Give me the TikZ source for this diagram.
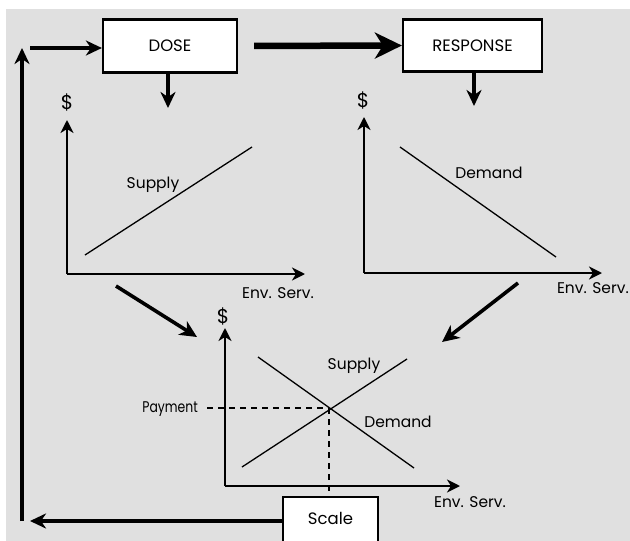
\documentclass[tikz,border=0pt]{standalone}
\usepackage{fontspec}
\setmainfont{Poppins}
\usetikzlibrary{arrows.meta}
\definecolor{bg}{HTML}{E0E0E0}
\begin{document}
\begin{tikzpicture}[x=1pt,y=-1pt,
  box/.style={draw,line width=2.2pt,fill=white,inner sep=0pt,font=\fontsize{16.5}{19}\selectfont},
  lbl/.style={inner sep=0pt,font=\fontsize{15.5}{18}\selectfont},
  dollar/.style={inner sep=0pt,font=\fontsize{20}{22}\selectfont},
  axis/.style={line width=2pt,-{Stealth[length=13pt,width=13pt,inset=4pt]}},
  curve/.style={line width=1.3pt},
  flow/.style={line width=3.2pt,-{Stealth[length=16pt,width=15pt,inset=5pt]}},
  diag/.style={line width=3.6pt,-{Stealth[length=17pt,width=16pt,inset=5pt]}},
  bigflow/.style={line width=6.5pt,-{Stealth[length=27pt,width=26pt,inset=8pt]}},
  dsh/.style={line width=1.3pt,dash pattern=on 6pt off 5pt}]
\useasboundingbox (0,0) rectangle (630,541);
\fill[bg] (6,9) rectangle (630,541);
% boxes
\node[box,minimum width=134pt,minimum height=53pt] (dose) at (170,46) {DOSE};
\node[box,minimum width=139pt,minimum height=52pt] (resp) at (472.5,45.5) {RESPONSE};
\node[box,minimum width=95pt,minimum height=48pt,text depth=6pt] (scale) at (330.5,521) {Scale};
% flow arrows
\draw[bigflow,shorten <=16pt] (dose.east) -- (resp.west);
\coordinate (tl) at (30,48);
\draw[flow] (tl) -- (tl -| dose.west);
\coordinate (vb) at (22,521);
\coordinate (vt) at (22,48);
\draw[flow] (vb) -- (vt);
\coordinate (bt) at (30,521);
\draw[flow] (scale.west) -- (bt);
\coordinate (d1) at (168,108);
\draw[flow] (dose.south -| d1) -- (d1);
\coordinate (r1) at (474,106);
\draw[flow] (resp.south -| r1) -- (r1);
% left graph
\coordinate (lo) at (67,274);
\coordinate (ly) at (67,120);
\coordinate (lx) at (305,274);
\draw[axis] (lo) -- (ly);
\draw[axis] (lo) -- (lx);
\coordinate (s1) at (85,255);
\coordinate (s2) at (252,147);
\draw[curve] (s1) -- (s2);
\node[dollar] (ld) at (67,102) {\$};
\node[lbl] (ls) at (153,185) {Supply};
\node[lbl] (le) at (278,293) {Env. Serv.};
% right graph
\coordinate (ro) at (364,273);
\coordinate (ry) at (364,117);
\coordinate (rx) at (602,273);
\draw[axis] (ro) -- (ry);
\draw[axis] (ro) -- (rx);
\coordinate (q1) at (400,147);
\coordinate (q2) at (556,257);
\draw[curve] (q1) -- (q2);
\node[dollar] (rd) at (363,100) {\$};
\node[lbl] (rdm) at (489,173) {Demand};
\node[lbl,anchor=east] (re) at (629,288) {Env. Serv.};
% diagonals
\coordinate (a1) at (116,286);
\coordinate (a2) at (197,337);
\draw[diag] (a1) -- (a2);
\coordinate (b1) at (518,283);
\coordinate (b2) at (442,342);
\draw[diag] (b1) -- (b2);
% bottom graph
\coordinate (bo) at (225,486);
\coordinate (by) at (225,328);
\coordinate (bx) at (460,486);
\draw[axis] (bo) -- (by);
\draw[axis] (bo) -- (bx);
\coordinate (bs1) at (242,467);
\coordinate (bs2) at (407,359);
\coordinate (bd1) at (258,357);
\coordinate (bd2) at (414,468);
\draw[curve] (bs1) -- (bs2);
\draw[curve] (bd1) -- (bd2);
\coordinate (eq) at (329,408);
\coordinate (pd) at (207,408);
\draw[dsh] (pd) -- (eq);
\draw[dsh] (eq) -- (eq |- scale.north);
\node[dollar] (bdl) at (223,316) {\$};
\node[lbl] (bsl) at (354,366) {Supply};
\node[lbl] (bdml) at (398,422) {Demand};
\node[lbl,anchor=east] (pay) at (198,409) {\scalebox{0.8}[1]{Payment}};
\node[lbl] (bel) at (470,502) {Env. Serv.};
\end{tikzpicture}
\end{document}
